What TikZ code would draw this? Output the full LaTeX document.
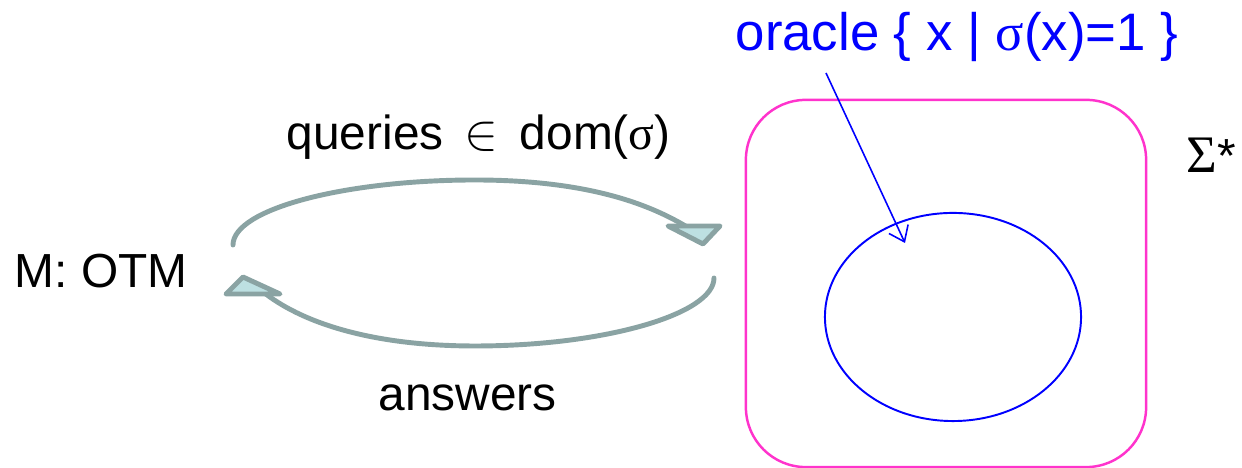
\documentclass[tikz,border=0pt]{standalone}
\usepackage{fontspec}
\setmainfont{Liberation Sans}
\newfontfamily\grk{Liberation Serif}
\usetikzlibrary{arrows.meta,shapes.geometric}
\definecolor{arcgray}{HTML}{8AA3A3}
\definecolor{arcfill}{HTML}{BDE0E2}
\definecolor{setpink}{HTML}{FF33CC}
\begin{document}
\begin{tikzpicture}[x=0.01cm,y=-0.01cm,
  lbl/.style={font=\fontsize{13.6}{16}\selectfont,inner sep=0pt,anchor=base west},
  arc/.style={arcgray,line width=1.4pt,line cap=round},
  tip/.style={arcgray,fill=arcfill,line width=1.4pt,line join=round}]
\useasboundingbox (0,0) rectangle (1242,468);
\node[lbl] (otm) at (14,288) {M: OTM};
\node[lbl] (qry) at (286,150) {queries \,$\in$\, dom({\grk σ})};
\node[lbl] (ans) at (378,411) {answers};
\node[lbl,blue,font=\fontsize{15}{17}\selectfont] (orc) at (735,51) {oracle \{ x | {\grk σ}(x)=1 \}};
\node[lbl] (sig) at (1186,173) {{\grk\fontsize{15}{17}\selectfont Σ}*};
\node[draw=setpink,line width=0.7pt,rounded corners=0.6cm,minimum width=4cm,
  minimum height=3.67cm,inner sep=0pt] (box) at (946,283.5) {};
\node[draw=blue,line width=0.55pt,ellipse,minimum width=2.56cm,
  minimum height=2.08cm,inner sep=0pt] (yes) at (953,317) {};
\coordinate (orctail) at (826,73);
\coordinate (orchead) at (905,243);
\draw[blue,line width=0.45pt,-{Straight Barb[length=4pt,width=6pt]}] (orctail) -- (orchead);
% queries arc
\coordinate (qa) at (233,245);
\coordinate (qb) at (692,230);
\draw[arc] (qa) .. controls (233,209) and (345,180) .. (475,180)
  .. controls (600,180) and (660,210) .. (qb);
\filldraw[tip] (668,226) -- (720,226) -- (703,244) -- cycle;
% answers arc
\coordinate (aa) at (714,278);
\coordinate (ab) at (262,291);
\draw[arc] (aa) .. controls (714,314) and (605,346) .. (475,346)
  .. controls (370,346) and (300,322) .. (ab);
\filldraw[tip] (226,294) -- (243,277) -- (280,294) -- cycle;
\end{tikzpicture}
\end{document}
